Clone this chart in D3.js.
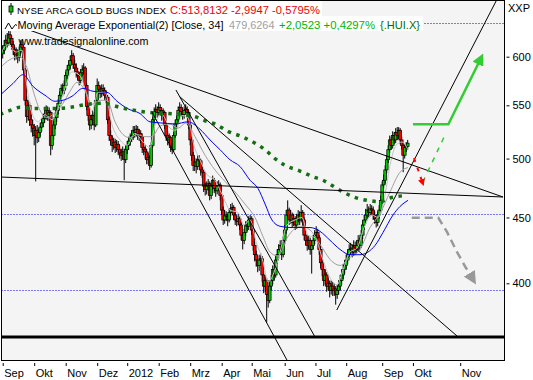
<!DOCTYPE html>
<html><head><meta charset="utf-8">
<script src="https://cdn.jsdelivr.net/npm/d3@7"></script>
<style>body{margin:0;background:#fff}svg{display:block;font-family:"Liberation Sans",Arial,sans-serif}</style>
</head><body><svg id="c" width="533" height="380"></svg>
<script>
const monthLabels = ["Sep","Okt","Nov","Dez","2012","Feb","Mrz","Apr","Mai","Jun","Jul","Aug","Sep","Okt","Nov"];
const monthIdx = [0,21,42,63,83,104,125,146,166,188,208.5,229,253,273.5,305];
const priceTicks = [400,450,500,550,600];

const opens = [603,607,612,618,615,624,620,613,608,602,
605,599,606,613,610,586,555,539,550,536,
531,528,521,526,519,524,529,533,537,541,
545,540,543,512,521,531,538,545,552,560,
567,565,570,580,586,591,596,601,592,588,
584,580,575,583,586,588,570,549,540,531,
536,540,531,555,570,566,562,567,565,560,
558,536,521,517,512,515,510,513,508,505,
503,506,499,508,512,516,519,521,526,524,
527,521,523,520,510,508,506,499,501,494,
512,536,544,546,543,548,545,540,543,531,
521,517,519,510,508,521,532,536,545,548,
544,541,545,546,543,531,517,503,494,497,
493,499,498,490,488,476,473,476,478,468,
476,481,474,472,476,477,468,456,448,452,
451,448,454,457,458,452,448,447,449,444,
436,432,438,444,443,448,449,440,428,421,
417,413,417,418,406,398,402,392,388,398,
402,410,406,417,421,425,428,421,432,440,
452,456,448,452,446,449,444,449,452,448,
454,448,436,432,428,432,425,428,432,436,
438,434,425,415,410,402,406,398,400,395,
398,395,396,392,395,398,402,406,410,413,
417,421,425,426,423,428,425,428,432,428,
436,444,448,452,456,454,457,456,452,449,
446,452,456,464,477,481,490,499,508,517,
512,521,517,524,521,526,517,512,503,510,
511];
const highs = [612,618,624,626,630,628,623,617,611,610,
608,611,618,619,612,588,559,555,553,541,
536,532,530,531,528,533,537,542,546,550,
549,548,545,526,535,542,549,556,564,571,
572,575,584,591,596,601,607,604,597,593,
588,583,587,591,593,590,572,553,544,541,
545,543,559,577,574,569,571,571,568,564,
560,539,526,521,519,518,517,516,512,509,
511,509,512,516,520,523,526,530,530,531,
530,527,526,522,514,512,509,505,503,515,
539,548,551,549,553,551,548,547,545,534,
525,523,521,514,524,536,540,549,553,551,
547,549,551,549,545,533,519,506,501,500,
503,503,500,494,490,479,480,482,480,479,
485,483,477,480,481,479,470,459,456,455,
453,457,461,462,460,455,451,453,451,446,
438,441,447,447,451,452,451,442,431,424,
420,421,422,420,409,406,404,396,401,406,
413,413,420,425,429,432,430,435,444,456,
464,458,456,454,453,451,453,456,455,460,
456,450,439,435,436,434,431,436,440,443,
441,436,427,418,413,410,408,404,402,402,
401,400,398,399,402,406,410,414,417,421,
425,429,430,429,432,431,432,436,434,440,
448,452,457,461,459,461,460,459,455,452,
455,460,468,480,486,494,503,512,521,520,
525,524,528,529,529,528,520,514,513,515,
517];
const lows = [598,603,608,610,612,614,608,602,596,597,
593,595,603,604,582,550,533,535,530,524,
520,512,480,514,515,520,525,529,533,536,
535,535,503,508,517,527,534,541,548,556,
559,561,566,576,582,587,591,587,583,578,
575,570,572,579,581,566,545,535,526,527,
531,526,529,552,561,557,558,560,555,552,
532,516,512,506,508,505,506,503,500,498,
499,481,496,504,508,512,515,517,519,520,
517,516,514,505,503,500,495,495,490,492,
510,533,540,538,540,540,535,536,527,516,
512,512,506,504,506,519,529,533,541,539,
536,537,541,538,527,512,498,489,489,487,
490,493,485,483,471,468,469,472,464,465,
473,470,467,469,472,464,452,444,445,447,
443,446,451,453,448,444,443,444,440,432,
425,429,435,439,440,444,436,424,416,412,
408,409,413,401,393,394,373,383,386,395,
399,402,404,414,418,421,417,419,429,437,
449,444,445,442,443,440,441,446,444,446,
444,432,428,424,425,421,407,425,429,433,
430,421,411,405,398,399,394,395,390,392,
391,391,385,389,392,395,399,403,407,410,
414,418,421,419,420,421,422,424,424,426,
433,440,445,449,450,451,452,448,445,442,
443,449,453,461,474,478,487,496,505,508,
509,513,514,517,518,513,508,488,500,506,
508];
const closes = [607,612,618,615,624,620,613,608,602,605,
599,606,613,610,586,555,539,550,536,531,
528,521,526,519,524,529,533,537,541,545,
540,543,512,521,531,538,545,552,560,567,
565,570,580,586,591,596,601,592,588,584,
580,575,583,586,588,570,549,540,531,536,
540,531,555,570,566,562,567,565,560,558,
536,521,517,512,515,510,513,508,505,503,
506,499,508,512,516,519,521,526,524,527,
521,523,520,510,508,506,499,501,494,512,
536,544,546,543,548,545,540,543,531,521,
517,519,510,508,521,532,536,545,548,544,
541,545,546,543,531,517,503,494,497,493,
499,498,490,488,476,473,476,478,468,476,
481,474,472,476,477,468,456,448,452,451,
448,454,457,458,452,448,447,449,444,436,
432,438,444,443,448,449,440,428,421,417,
413,417,418,406,398,402,392,388,398,402,
410,406,417,421,425,428,421,432,440,452,
456,448,452,446,449,444,449,452,448,454,
448,436,432,428,432,425,428,432,436,438,
434,425,415,410,402,406,398,400,395,398,
395,396,392,395,398,402,406,410,413,417,
421,425,426,423,428,425,428,432,428,436,
444,448,452,456,454,457,456,452,449,446,
452,456,464,477,481,490,499,508,517,512,
521,517,524,521,526,517,512,503,510,511,
514];

const emaBlue = [[-1.8,560],[6.9,572],[13.5,581],[20.2,569],[28.2,560],[34.9,554],[40.2,555],[46.2,559],[53.5,567],[60.2,564],[69.5,563],[76.2,554],[82.9,547],[91.5,542],[98.2,534],[104.9,533],[114.9,532],[123.5,534],[131.5,527],[138.2,517],[144.9,508],[151.5,499],[158.2,493],[164.9,481],[170.2,474],[174.9,461],[179.5,448],[184.9,443],[191.5,442],[198.2,442],[204.9,442],[211.5,439],[218.2,432],[224.9,425],[231.5,421],[238.2,421],[243.5,423],[248.2,428],[253.5,438],[260.2,452],[264.9,459],[270.2,464]];
const emaGreen = [[-1.8,541],[4.9,545],[11.5,548],[20.2,547],[36.2,547],[44.9,548],[56.2,551],[66.9,552],[78.2,548],[88.2,545],[98.2,543],[110.2,542],[119.5,541],[128.2,539],[134.9,535],[141.5,532],[150.2,525],[159.5,520],[168.2,514],[174.9,508],[181.5,500],[188.2,494],[198.2,489],[206.9,484],[213.5,481],[220.2,476],[226.9,471],[233.5,467],[242.9,464],[251.5,463],[258.2,466],[268.2,468]];
const graySlow = [[-1.8,588],[4.9,597],[11.5,600],[16.2,588],[20.2,565],[24.9,545],[29.5,538],[34.9,543],[40.2,552],[44.9,564],[49.5,573],[54.9,565],[59.5,551],[64.9,555],[69.5,555],[74.9,534],[80.2,522],[84.9,519],[89.5,522],[94.9,520],[99.5,520],[104.9,530],[111.5,532],[116.9,528],[122.2,533],[128.2,520],[134.9,503],[141.5,490],[148.2,480],[154.9,471],[161.5,461],[168.2,450],[173.5,435],[178.2,423],[183.5,420],[190.2,435],[198.2,443],[204.9,440],[211.5,429],[219.5,416],[224.9,413],[231.5,419],[238.2,425],[244.9,442],[251.5,453],[258.2,471],[264.9,488],[270.2,492]];
const grayFast = [[-1.8,602],[3.5,613],[8.9,605],[12.9,607],[15.5,576],[18.9,545],[23.5,534],[28.2,541],[32.9,536],[36.9,547],[41.5,567],[46.2,584],[51.5,580],[55.5,563],[59.5,544],[63.5,563],[68.2,563],[72.9,531],[78.2,517],[82.9,512],[88.2,523],[93.5,515],[98.2,510],[101.5,531],[106.2,541],[111.5,528],[115.5,526],[119.5,540],[123.5,538],[127.5,512],[131.5,499],[136.2,486],[141.5,481],[146.2,469],[151.5,456],[156.9,454],[160.9,444],[164.9,448],[168.9,431],[173.5,416],[176.9,401],[180.9,408],[184.9,423],[189.5,444],[194.9,448],[199.5,450],[203.5,436],[208.2,434],[212.9,419],[218.2,404],[222.9,399],[226.9,410],[231.5,423],[236.2,426],[240.9,442],[246.2,452],[250.2,450],[254.2,464],[258.2,494],[262.2,512],[266.2,515],[270.2,508]];

const levels = [637, 452.8, 395.2];
const trendLines = [
  [[4.9,637],[333.5,466.8]],
  [[-1.8,483.8],[333.5,466.8]],
  [[99.5,543.5],[189.5,348.7]],
  [[115.5,565.3],[208.2,363.4]],
  [[118.2,558.3],[302.9,364.0]],
  [[222.7,381.3],[329.3,664.1]]
];
const baseLine = [[-5,363.4],[340,363.4]];
const greenArrow = [[273.5,531.6],[297.1,531.6],[319.3,600]];
const greenDashed = [[280.1,479.5],[294.9,521.6]];
const redArrow = [[274.2,500.5],[280.2,477.8]];
const grayArrow = [[272.7,449.8],[290.4,449.8],[296.2,438.5],[302.9,423.0],[308.9,411.1],[314.2,401.6]];

const svg = d3.select("#c");
const x = d3.scaleLinear().domain([0,270]).range([2.7,407.7]);
const y = d3.scaleLog().domain([400,600]).range([283.3,56.7]);
const P = {l:1.5,t:0.5,r:504.5,b:360.5};

svg.append("rect").attr("width",533).attr("height",380).attr("fill","#fff");
svg.append("rect").attr("x",P.l).attr("y",P.t).attr("width",P.r-P.l).attr("height",P.b-P.t).attr("fill","#f4f4f4");

const defs = svg.append("defs");
defs.append("clipPath").attr("id","clip").append("rect").attr("x",P.l+0.5).attr("y",P.t+0.5).attr("width",P.r-P.l-1).attr("height",P.b-P.t-1);
function marker(id,color,w,h){
  defs.append("marker").attr("id",id).attr("viewBox","0 0 10 10").attr("refX",7).attr("refY",5)
    .attr("markerUnits","userSpaceOnUse").attr("markerWidth",w).attr("markerHeight",h).attr("orient","auto")
    .append("path").attr("d","M0,0L10,5L0,10z").attr("fill",color);
}
marker("mg","#33cc33",12,12);
marker("mgr","#999999",13,13);
marker("mr","#ff0000",7,7);

const g = svg.append("g").attr("clip-path","url(#clip)");

levels.forEach(v=>{
  const yy = Math.round(y(v))+0.5;
  g.append("line").attr("x1",P.l).attr("x2",P.r).attr("y1",yy).attr("y2",yy)
   .attr("stroke","#0000e0").attr("stroke-width",1).attr("stroke-dasharray","1,2");
});

// candles
const cg = g.append("g");
closes.forEach((c,i)=>{
  const o=opens[i], cx=x(i);
  cg.append("line").attr("x1",cx).attr("x2",cx).attr("y1",y(highs[i])).attr("y2",y(lows[i]))
    .attr("stroke","#000").attr("stroke-width",1);
  const top=y(Math.max(o,c)), bot=y(Math.min(o,c));
  cg.append("rect").attr("x",cx-1.4).attr("width",2.8).attr("y",top).attr("height",Math.max(1,bot-top))
    .attr("fill", c>=o ? "#00c800" : "#ff0000").attr("stroke","#000").attr("stroke-width",0.7);
});

const lineGen = d3.line().x(d=>x(d[0])).y(d=>y(d[1])).curve(d3.curveMonotoneX);
g.append("path").attr("d",lineGen(grayFast)).attr("fill","none").attr("stroke","#c4c4c4").attr("stroke-width",1);
g.append("path").attr("d",lineGen(graySlow)).attr("fill","none").attr("stroke","#a0a0a0").attr("stroke-width",1);
g.append("path").attr("d",lineGen(emaBlue)).attr("fill","none").attr("stroke","#0000ff").attr("stroke-width",1);
g.append("path").attr("d",lineGen(emaGreen)).attr("fill","none").attr("stroke","#146e14").attr("stroke-width",3.5).attr("stroke-dasharray","3.5,5.5");

const straight = d3.line().x(d=>x(d[0])).y(d=>y(d[1]));
trendLines.forEach(t=>{
  g.append("path").attr("d",straight(t)).attr("fill","none").attr("stroke","#000").attr("stroke-width",1);
});
g.append("path").attr("d",straight(baseLine)).attr("fill","none").attr("stroke","#000").attr("stroke-width",3);

g.append("path").attr("d",straight(greenArrow)).attr("fill","none").attr("stroke","#33cc33").attr("stroke-width",2.5).attr("marker-end","url(#mg)");
g.append("path").attr("d",straight(greenDashed)).attr("fill","none").attr("stroke","#33cc33").attr("stroke-width",1.5).attr("stroke-dasharray","5,6");
g.append("path").attr("d",straight(redArrow)).attr("fill","none").attr("stroke","#ff0000").attr("stroke-width",2).attr("stroke-dasharray","4,6").attr("marker-end","url(#mr)");
g.append("path").attr("d",straight(grayArrow)).attr("fill","none").attr("stroke","#999999").attr("stroke-width",2.5).attr("stroke-dasharray","8,5").attr("marker-end","url(#mgr)");

// frame
svg.append("rect").attr("x",P.l).attr("y",P.t).attr("width",P.r-P.l).attr("height",P.b-P.t).attr("fill","none").attr("stroke","#000").attr("stroke-width",1);

// right axis
const ay = svg.append("g").attr("transform","translate(506.5,0)")
  .call(d3.axisRight(y).tickValues(priceTicks).tickSize(3).tickPadding(3).tickFormat(d3.format("d")));
ay.select(".domain").remove();
ay.selectAll("text").attr("font-size",11).attr("fill","#000").attr("font-family","Liberation Sans, Arial, sans-serif");
ay.selectAll("line").attr("stroke","#000");
svg.append("text").attr("x",508).attr("y",12).attr("font-size",11).text("XXP");

// bottom axis
const ax = svg.append("g").attr("transform","translate(0,363)")
  .call(d3.axisBottom(x).tickValues(monthIdx).tickSize(3).tickFormat((d,i)=>monthLabels[i]));
ax.select(".domain").remove();
ax.selectAll("line").attr("stroke","#000");
ax.selectAll("text").attr("font-size",11).attr("fill","#000").attr("text-anchor","start")
  .attr("x",1).attr("y",6).attr("dy","0.71em").attr("font-family","Liberation Sans, Arial, sans-serif");

// legend
svg.append("rect").attr("x",2).attr("y",1).attr("width",320).attr("height",15).attr("fill","#fff");
svg.append("rect").attr("x",2).attr("y",16).attr("width",421).attr("height",15).attr("fill","#fff");
svg.append("line").attr("x1",11).attr("x2",11).attr("y1",3).attr("y2",15).attr("stroke","#000");
svg.append("rect").attr("x",9).attr("y",6).attr("width",4).attr("height",6).attr("fill","#00c800").attr("stroke","#000").attr("stroke-width",0.8);
svg.append("polyline").attr("points","5,29 8.5,23 12,29 15.5,24.5 17,25.5").attr("fill","none").attr("stroke","#000");
const leg = [
  {t:"NYSE ARCA GOLD BUGS INDEX", x:17, y:14, w:149, s:9.8, c:"#000"},
  {t:"C:513,8132 -2,9947 -0,5795%", x:170, y:14, w:150, s:11, c:"#ee0000"},
  {t:"Moving Average Exponential(2) [Close, 34]", x:17.5, y:29, w:206, s:10.5, c:"#000"},
  {t:"479,6264", x:229, y:29, w:45.5, s:10.5, c:"#a0a0a0"},
  {t:"+2,0523 +0,4297%", x:279, y:29, w:96, s:10.5, c:"#00b400"},
  {t:"{.HUI.X}", x:380, y:29, w:40, s:10.5, c:"#007000"},
  {t:"www.tradesignalonline.com", x:18.5, y:45, w:130, s:10.5, c:"#000"}
];
leg.forEach(d=>{
  svg.append("text").attr("x",d.x).attr("y",d.y).attr("font-size",d.s).attr("fill",d.c)
    .attr("textLength",d.w).attr("lengthAdjust","spacingAndGlyphs").text(d.t);
});
</script></body></html>
